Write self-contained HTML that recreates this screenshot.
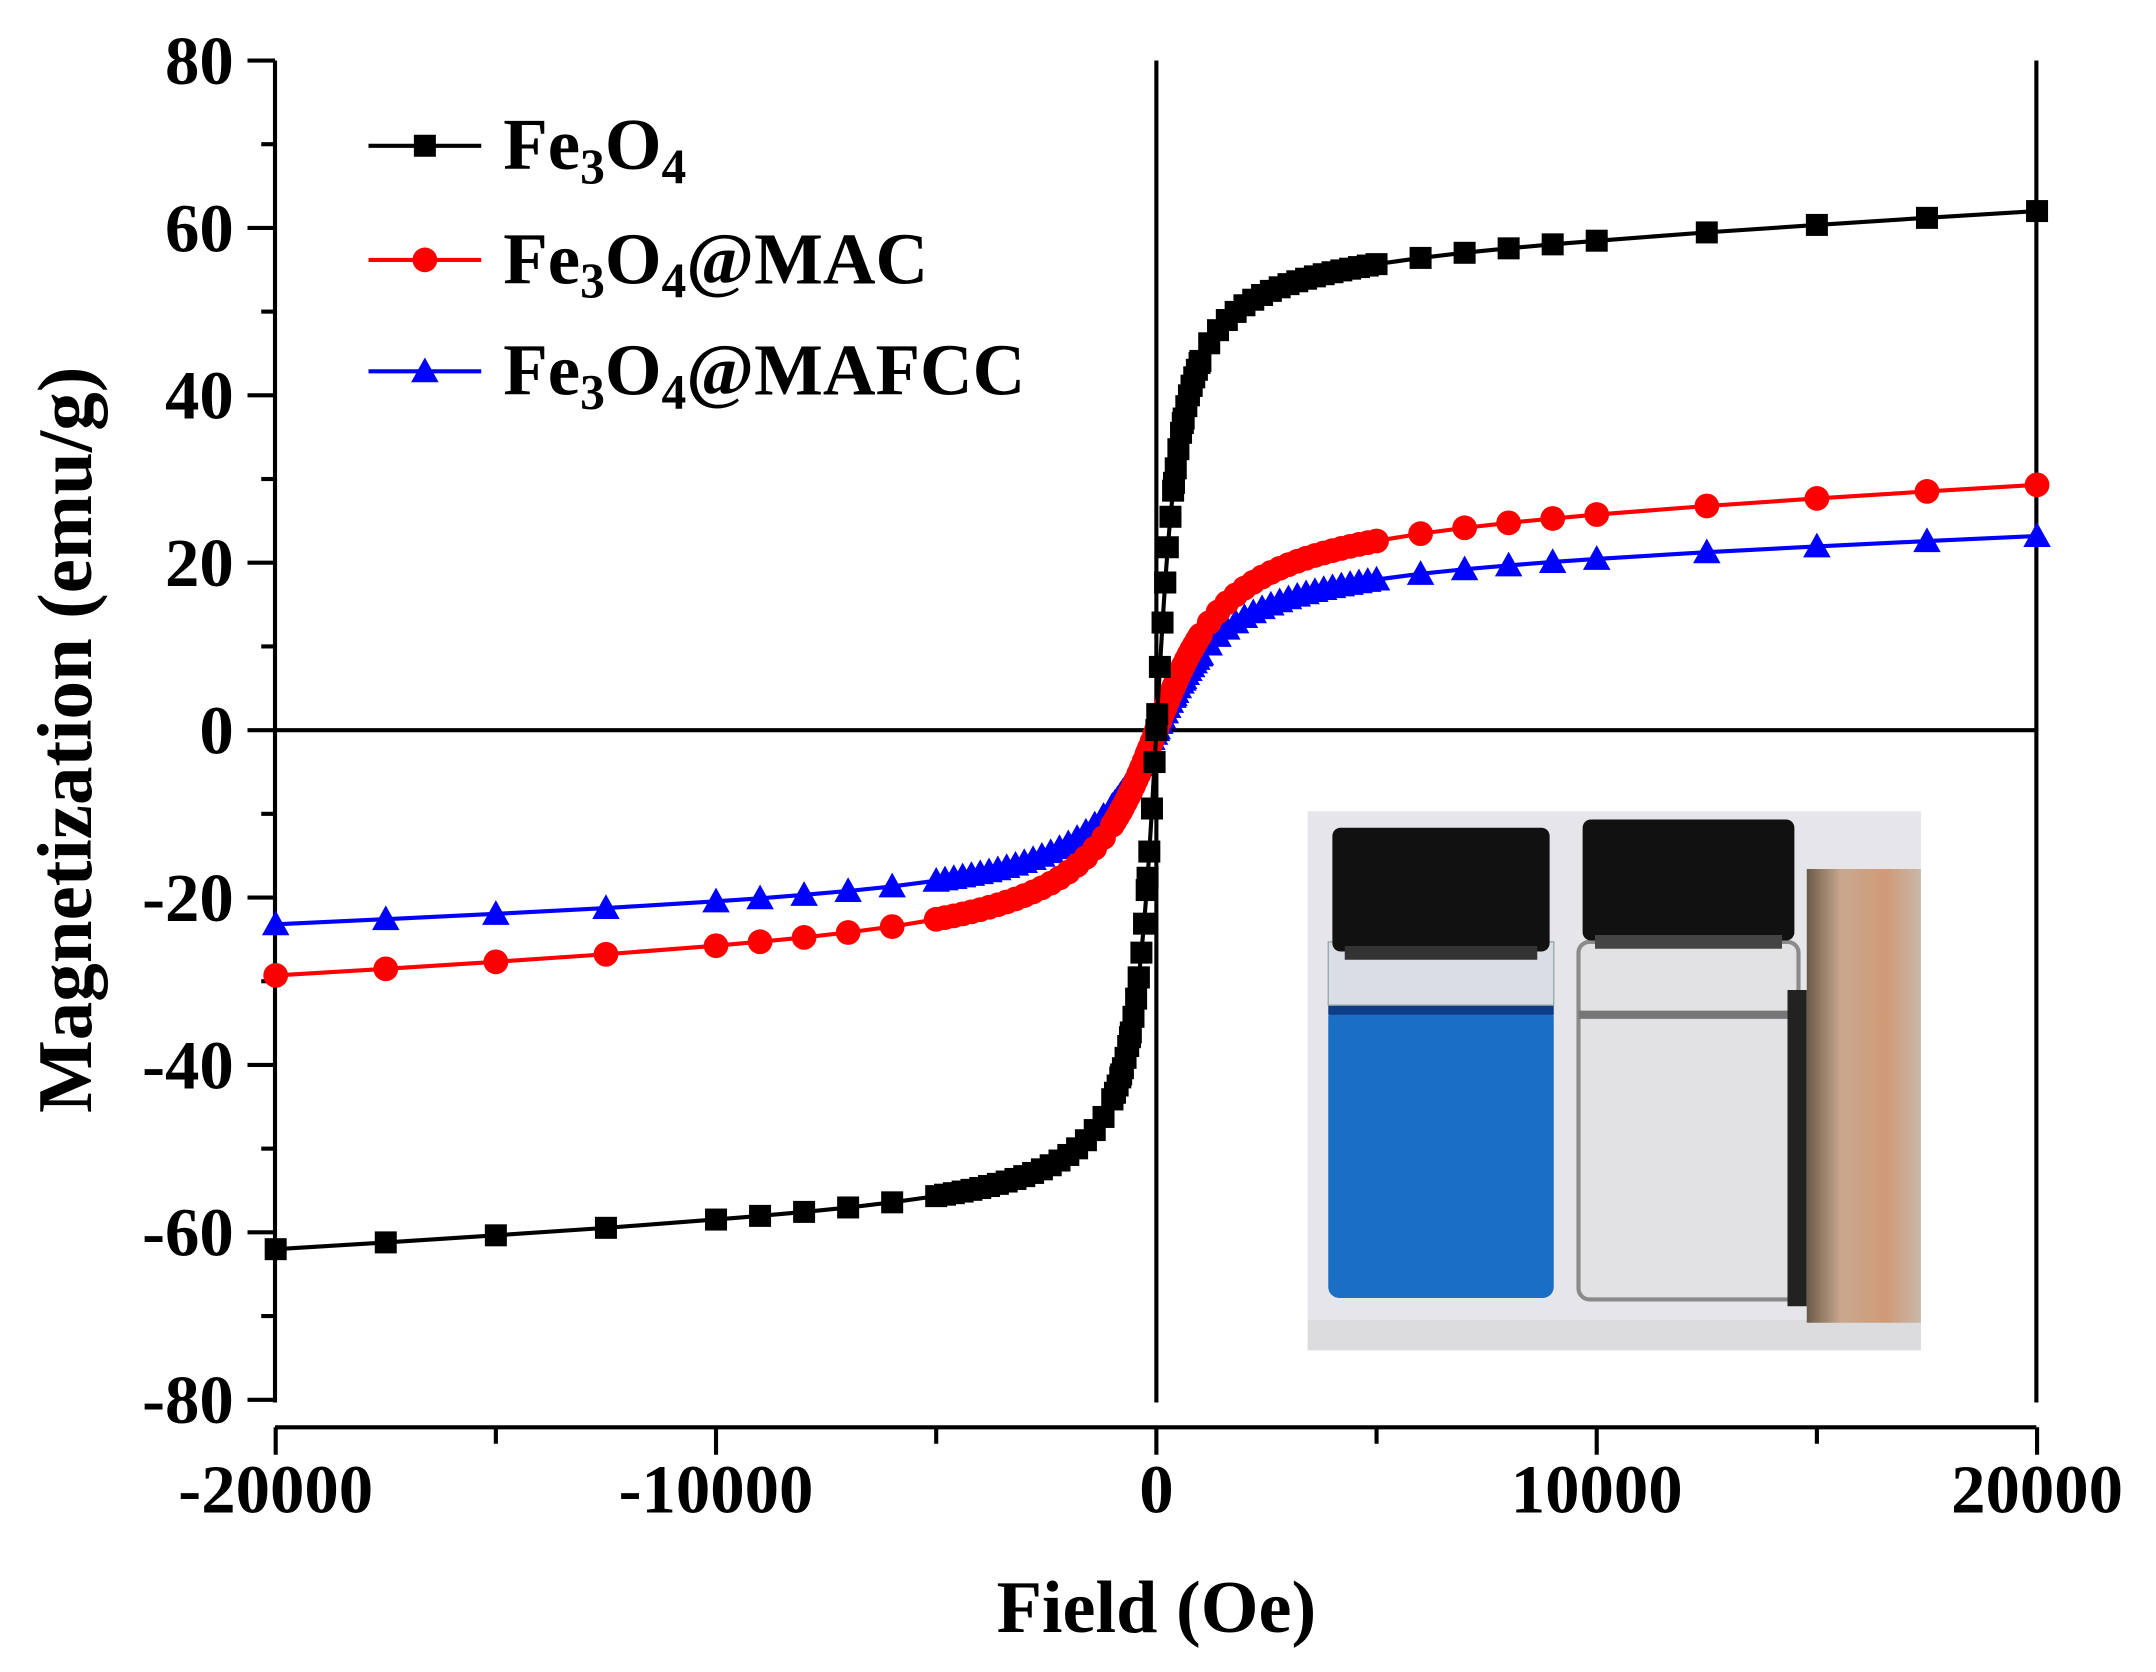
<!DOCTYPE html>
<html><head><meta charset="utf-8"><style>
html,body{margin:0;padding:0;background:#fff;}
svg{display:block;}
text{font-family:"Liberation Serif",serif;font-weight:bold;fill:#000;}
</style></head><body>
<svg id="s" width="2156" height="1672" viewBox="0 0 1568 1216" xmlns="http://www.w3.org/2000/svg">
<defs>
<linearGradient id="mag" x1="0" x2="1" y1="0" y2="0">
<stop offset="0" stop-color="#6b5a48"/><stop offset="0.3" stop-color="#c9a88e"/><stop offset="0.7" stop-color="#d09a78"/><stop offset="1" stop-color="#c8b8a8"/></linearGradient>
</defs>
<g>
<rect x="951" y="590" width="446" height="392" fill="#e6e6ea"/>
<rect x="951" y="960" width="446" height="22" fill="#dcdcde"/>
<rect x="966" y="732" width="164" height="212" rx="8" fill="#1a6fc4"/>
<rect x="966" y="730" width="164" height="8" fill="#0d3d86"/>
<rect x="966" y="685" width="164" height="46" fill="#d8dde6" stroke="#9aa" stroke-width="1"/>
<rect x="969" y="602" width="158" height="90" rx="6" fill="#111"/>
<rect x="978" y="688" width="140" height="10" fill="#333"/>
<rect x="1148" y="685" width="160" height="260" rx="8" fill="#e2e2e4" stroke="#8a8a8a" stroke-width="3"/>
<rect x="1148" y="735" width="160" height="6" fill="#777"/>
<rect x="1151" y="596" width="154" height="88" rx="6" fill="#111"/>
<rect x="1160" y="680" width="136" height="10" fill="#444"/>
<rect x="1300" y="720" width="14" height="230" fill="#222"/>
<rect x="1314" y="632" width="83" height="330" fill="url(#mag)"/>
</g>
<g stroke="#000" stroke-width="3" fill="none">
<line x1="200" y1="44" x2="200" y2="1020"/>
<line x1="1481" y1="44" x2="1481" y2="1020"/>
<line x1="200" y1="1038" x2="1481" y2="1038"/>
<line x1="200" y1="531" x2="1481" y2="531"/>
<line x1="841" y1="44" x2="841" y2="1020"/>
</g>
<g id="ticks" stroke="#000" stroke-width="3"></g>
<g id="labels"></g>
<g id="series"></g>
<g stroke-width="3">
<line x1="268" y1="106" x2="350" y2="106" stroke="#000"/><rect x="301" y="98" width="16" height="16" fill="#000"/>
<line x1="268" y1="189" x2="350" y2="189" stroke="#f00"/><circle cx="309" cy="189" r="9" fill="#f00"/>
<line x1="268" y1="270" x2="350" y2="270" stroke="#00f"/><polygon points="309,260 319,278 299,278" fill="#00f"/>
</g>
<text x="366" y="123" font-size="53">Fe<tspan font-size="36" dy="10">3</tspan><tspan dy="-10">O</tspan><tspan font-size="36" dy="10">4</tspan></text>
<text x="366" y="206" font-size="53">Fe<tspan font-size="36" dy="10">3</tspan><tspan dy="-10">O</tspan><tspan font-size="36" dy="10">4</tspan><tspan dy="-10">@MAC</tspan></text>
<text x="366" y="287" font-size="53">Fe<tspan font-size="36" dy="10">3</tspan><tspan dy="-10">O</tspan><tspan font-size="36" dy="10">4</tspan><tspan dy="-10">@MAFCC</tspan></text>
<text x="841" y="1187" font-size="54" text-anchor="middle">Field (Oe)</text>
<text transform="translate(66,538) rotate(-90)" font-size="56" text-anchor="middle">Magnetization (emu/g)</text>
</svg>
<script>
var NS="http://www.w3.org/2000/svg";
function X(h){return 841+h*(1281/40000);}
function Y(m){return 531-m*(487/80);}
function el(t,a,p){var e=document.createElementNS(NS,t);for(var k in a)e.setAttribute(k,a[k]);p.appendChild(e);return e;}
var tk=document.getElementById('ticks'),lb=document.getElementById('labels'),sr=document.getElementById('series');
for(var v=-80;v<=80;v+=10){var y=Y(v);var maj=v%20==0;el('line',{x1:maj?180:190,y1:y,x2:200,y2:y},tk);
 if(maj){var t=el('text',{x:170,y:y+17,'font-size':50,'text-anchor':'end'},lb);t.textContent=v;}}
for(var h=-20000;h<=20000;h+=5000){var x=X(h);var maj=h%10000==0;el('line',{x1:x,y1:1038,x2:x,y2:maj?1058:1050},tk);
 if(maj){var t=el('text',{x:x,y:1100,'font-size':50,'text-anchor':'middle'},lb);t.textContent=h;}}
function f(H,A,h0,B){return A*(2/Math.PI)*Math.atan(H/h0)+B*H/20000;}
var pts=[];[-20000,-17500,-15000,-12500,-10000,-9000,-8000,-7000,-6000].forEach(function(p){pts.push(p)});
for(var h=-5000;h<=5000;h+=200)pts.push(h);
for(var h=-1000;h<=1000;h+=60)pts.push(h);
[6000,7000,8000,9000,10000,12500,15000,17500,20000].forEach(function(p){pts.push(p)});
pts.sort(function(a,b){return a-b});
var S=[{c:'#00f',A:20.0,h:1200,B:3.95,m:'t'},{c:'#f00',A:25.06,h:1200,B:5.2,m:'c'},{c:'#000',A:57,h:380,B:5.7,m:'s'}];
S.forEach(function(s){var d='';pts.forEach(function(h,i){d+=(i?'L':'M')+X(h).toFixed(1)+' '+Y(f(h,s.A,s.h,s.B)).toFixed(1);});
 el('path',{d:d,stroke:s.c,'stroke-width':3,fill:'none'},sr);
 pts.forEach(function(h){var x=X(h),y=Y(f(h,s.A,s.h,s.B));
  if(s.m=='s')el('rect',{x:x-8,y:y-8,width:16,height:16,fill:s.c},sr);
  else if(s.m=='c')el('circle',{cx:x,cy:y,r:9,fill:s.c},sr);
  else el('polygon',{points:x+','+(y-10)+' '+(x+10)+','+(y+8)+' '+(x-10)+','+(y+8),fill:s.c},sr);});
});
</script>
</body></html>
